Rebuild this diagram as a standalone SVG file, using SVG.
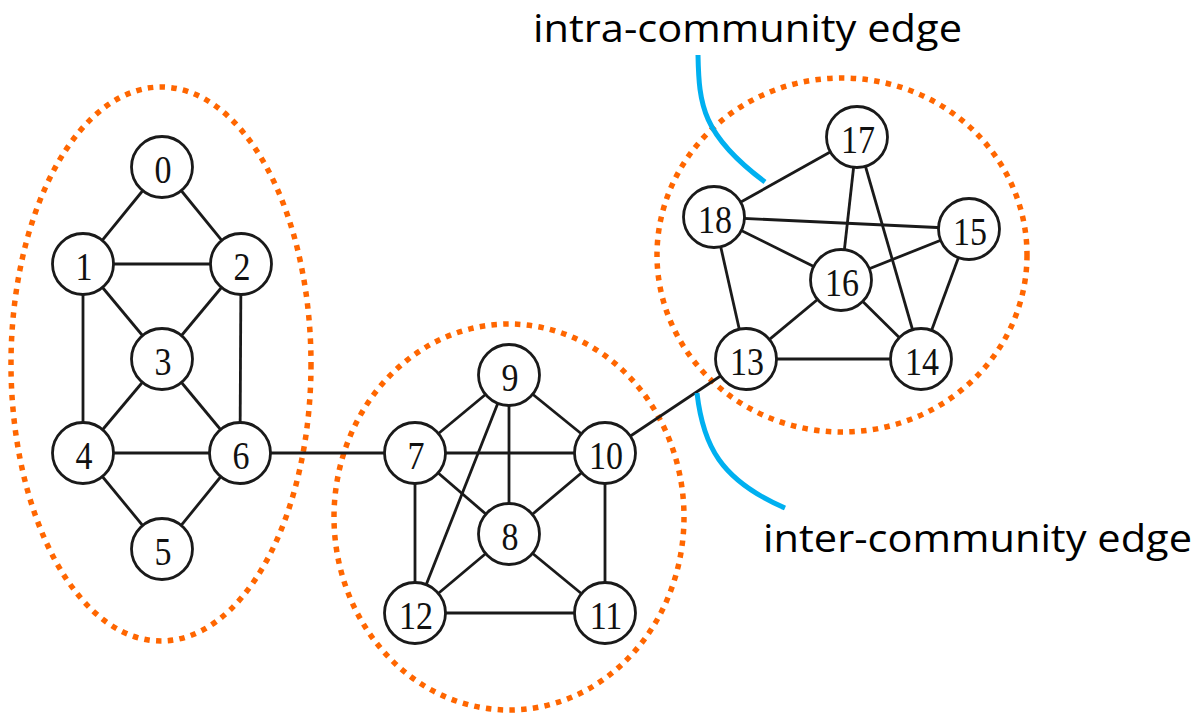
<svg xmlns="http://www.w3.org/2000/svg" width="1201" height="714" viewBox="0 0 1201 714">
<style>
.comm{fill:none;stroke:#FF6600;stroke-width:5.5;stroke-dasharray:5.5 6.3}
.edge{stroke:#1a1a1a;stroke-width:2.8;fill:none}
.node circle{fill:#fff;stroke:#1a1a1a;stroke-width:2.8}
.lbl{font-family:"Liberation Serif","Times New Roman",serif;font-size:34px;fill:#111;text-anchor:middle}
.call{fill:none;stroke:#00B0F0;stroke-width:5}
.note{font-family:"Open Sans","Noto Sans",sans-serif;font-size:39px;fill:#000}
</style>
<rect width="1201" height="714" fill="#fff"/>
<g id="communities">
<ellipse class="comm" cx="161" cy="364" rx="150" ry="277"/>
<ellipse class="comm" cx="509" cy="517" rx="175" ry="193"/>
<ellipse class="comm" cx="842" cy="255" rx="185" ry="177"/>
</g>
<g id="connectors">
<line class="edge" x1="162" y1="167" x2="83" y2="264"/>
<line class="edge" x1="162" y1="167" x2="241" y2="264"/>
<line class="edge" x1="83" y1="264" x2="241" y2="264"/>
<line class="edge" x1="83" y1="264" x2="162" y2="359"/>
<line class="edge" x1="241" y1="264" x2="162" y2="359"/>
<line class="edge" x1="83" y1="264" x2="83" y2="453"/>
<line class="edge" x1="241" y1="264" x2="240" y2="453"/>
<line class="edge" x1="162" y1="359" x2="83" y2="453"/>
<line class="edge" x1="162" y1="359" x2="240" y2="453"/>
<line class="edge" x1="83" y1="453" x2="240" y2="453"/>
<line class="edge" x1="83" y1="453" x2="162" y2="549"/>
<line class="edge" x1="240" y1="453" x2="162" y2="549"/>
<line class="edge" x1="240" y1="453" x2="415" y2="453"/>
<line class="edge" x1="509" y1="375" x2="415" y2="453"/>
<line class="edge" x1="509" y1="375" x2="605" y2="453"/>
<line class="edge" x1="509" y1="375" x2="509" y2="534"/>
<line class="edge" x1="509" y1="375" x2="415" y2="613"/>
<line class="edge" x1="415" y1="453" x2="605" y2="453"/>
<line class="edge" x1="415" y1="453" x2="509" y2="534"/>
<line class="edge" x1="415" y1="453" x2="415" y2="613"/>
<line class="edge" x1="605" y1="453" x2="509" y2="534"/>
<line class="edge" x1="605" y1="453" x2="605" y2="613"/>
<line class="edge" x1="509" y1="534" x2="415" y2="613"/>
<line class="edge" x1="509" y1="534" x2="605" y2="613"/>
<line class="edge" x1="415" y1="613" x2="605" y2="613"/>
<line class="edge" x1="605" y1="453" x2="746" y2="359"/>
<line class="edge" x1="857" y1="137" x2="714" y2="217"/>
<line class="edge" x1="857" y1="137" x2="841" y2="280"/>
<line class="edge" x1="857" y1="137" x2="921" y2="359"/>
<line class="edge" x1="714" y1="217" x2="969" y2="229"/>
<line class="edge" x1="714" y1="217" x2="841" y2="280"/>
<line class="edge" x1="714" y1="217" x2="746" y2="359"/>
<line class="edge" x1="969" y1="229" x2="841" y2="280"/>
<line class="edge" x1="969" y1="229" x2="921" y2="359"/>
<line class="edge" x1="841" y1="280" x2="746" y2="359"/>
<line class="edge" x1="841" y1="280" x2="921" y2="359"/>
<line class="edge" x1="746" y1="359" x2="921" y2="359"/>
</g>
<g id="n0" class="node"><circle cx="162" cy="167" r="30.5"/><text class="lbl" transform="translate(163 183) scale(1 1.2)">0</text></g>
<g id="n1" class="node"><circle cx="83" cy="264" r="30.5"/><text class="lbl" transform="translate(84 280) scale(1 1.2)">1</text></g>
<g id="n2" class="node"><circle cx="241" cy="264" r="30.5"/><text class="lbl" transform="translate(242 280) scale(1 1.2)">2</text></g>
<g id="n3" class="node"><circle cx="162" cy="359" r="30.5"/><text class="lbl" transform="translate(163 375) scale(1 1.2)">3</text></g>
<g id="n4" class="node"><circle cx="83" cy="453" r="30.5"/><text class="lbl" transform="translate(84 469) scale(1 1.2)">4</text></g>
<g id="n5" class="node"><circle cx="162" cy="549" r="30.5"/><text class="lbl" transform="translate(163 565) scale(1 1.2)">5</text></g>
<g id="n6" class="node"><circle cx="240" cy="453" r="30.5"/><text class="lbl" transform="translate(241 469) scale(1 1.2)">6</text></g>
<g id="n7" class="node"><circle cx="415" cy="453" r="30.5"/><text class="lbl" transform="translate(416 469) scale(1 1.2)">7</text></g>
<g id="n8" class="node"><circle cx="509" cy="534" r="30.5"/><text class="lbl" transform="translate(510 550) scale(1 1.2)">8</text></g>
<g id="n9" class="node"><circle cx="509" cy="375" r="30.5"/><text class="lbl" transform="translate(510 391) scale(1 1.2)">9</text></g>
<g id="n10" class="node"><circle cx="605" cy="453" r="30.5"/><text class="lbl" transform="translate(606 469) scale(1 1.2)">10</text></g>
<g id="n11" class="node"><circle cx="605" cy="613" r="30.5"/><text class="lbl" transform="translate(606 629) scale(1 1.2)">11</text></g>
<g id="n12" class="node"><circle cx="415" cy="613" r="30.5"/><text class="lbl" transform="translate(416 629) scale(1 1.2)">12</text></g>
<g id="n13" class="node"><circle cx="746" cy="359" r="30.5"/><text class="lbl" transform="translate(747 375) scale(1 1.2)">13</text></g>
<g id="n14" class="node"><circle cx="921" cy="359" r="30.5"/><text class="lbl" transform="translate(922 375) scale(1 1.2)">14</text></g>
<g id="n15" class="node"><circle cx="969" cy="229" r="30.5"/><text class="lbl" transform="translate(970 245) scale(1 1.2)">15</text></g>
<g id="n16" class="node"><circle cx="841" cy="280" r="30.5"/><text class="lbl" transform="translate(842 296) scale(1 1.2)">16</text></g>
<g id="n17" class="node"><circle cx="857" cy="137" r="30.5"/><text class="lbl" transform="translate(858 153) scale(1 1.2)">17</text></g>
<g id="n18" class="node"><circle cx="714" cy="217" r="30.5"/><text class="lbl" transform="translate(715 233) scale(1 1.2)">18</text></g>
<g id="annotations">
<path class="call" d="M 698 55 C 699 105, 702 135, 765 182"/>
<path class="call" d="M 697 393 C 703 445, 720 480, 785 508"/>
<text class="note" x="533" y="42" textLength="429" lengthAdjust="spacingAndGlyphs">intra-community edge</text>
<text class="note" x="763" y="552" textLength="429" lengthAdjust="spacingAndGlyphs">inter-community edge</text>
</g>
</svg>
